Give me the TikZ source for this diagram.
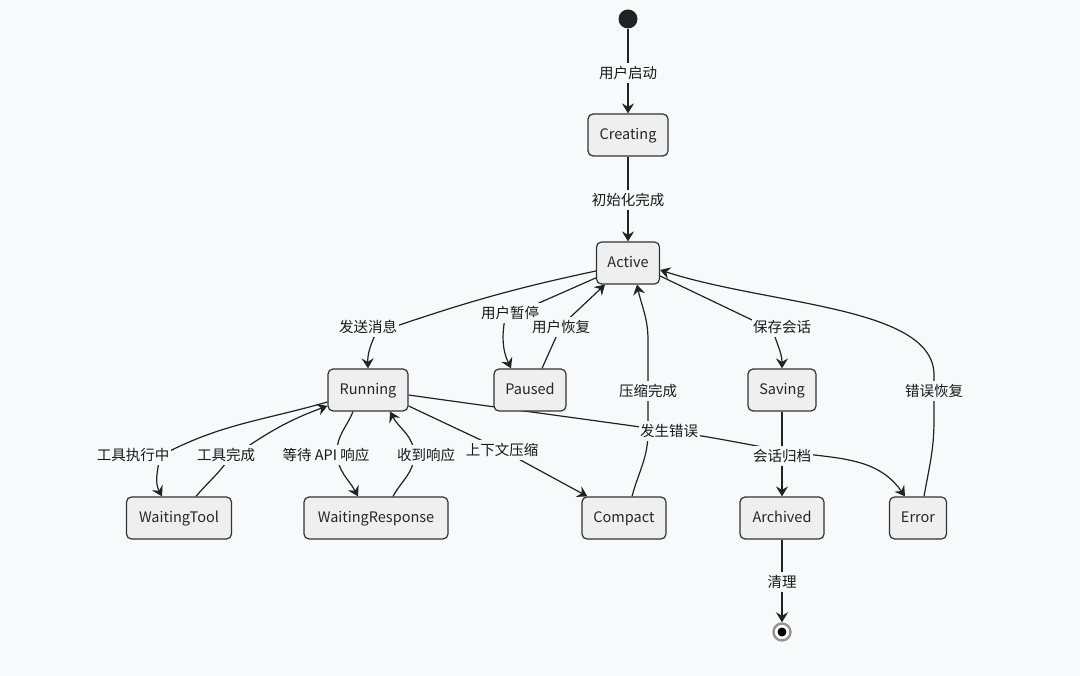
\documentclass[tikz,border=0pt]{standalone}
\usepackage{fontspec}
\setmainfont{Noto Sans CJK SC}
\usetikzlibrary{arrows.meta}
\definecolor{bgc}{RGB}{248,249,250}
\definecolor{nodefill}{RGB}{239,239,239}
\definecolor{linec}{RGB}{34,34,34}
\definecolor{bordc}{RGB}{51,51,51}
\pgfdeclarelayer{bglayer}
\pgfdeclarelayer{edgelayer}
\pgfsetlayers{bglayer,edgelayer,main}
\begin{document}
\begin{tikzpicture}[x=1pt,y=1pt,
  state/.style={draw=bordc,fill=nodefill,rounded corners=5pt,line width=1.2pt,minimum height=42pt,inner sep=0pt,text height=11pt,text depth=1.5pt,font=\fontsize{14.5}{17}\selectfont,text=black!85},
  lbl/.style={fill=bgc,inner xsep=1.5pt,inner ysep=3pt,font=\fontsize{14.5}{17}\selectfont,text=black!90},
  edge/.style={draw=linec,line width=1.2pt,-{Stealth[length=10pt,width=12pt,inset=3.5pt]}}
]
\begin{pgfonlayer}{bglayer}
\fill[bgc] (0,0) rectangle (1080,-676);
\end{pgfonlayer}

% states
\node[circle,fill=linec,minimum size=19pt,inner sep=0pt] (start) at (628,-19) {};
\node[state,minimum width=80pt] (creating) at (628,-135) {Creating};
\node[state,minimum width=63pt] (active) at (628,-263) {Active};
\node[state,minimum width=80pt] (running) at (368,-390) {Running};
\node[state,minimum width=72pt] (paused) at (530,-390) {Paused};
\node[state,minimum width=68pt] (saving) at (782,-390) {Saving};
\node[state,minimum width=105pt] (wtool) at (179,-518) {WaitingTool};
\node[state,minimum width=144pt] (wresp) at (376,-518) {WaitingResponse};
\node[state,minimum width=84pt] (compact) at (624,-518) {Compact};
\node[state,minimum width=84pt] (archived) at (782,-518) {Archived};
\node[state,minimum width=57pt] (error) at (918,-518) {Error};
\node[circle,draw=gray!85,line width=2.4pt,fill=white,minimum size=17pt,inner sep=0pt] (end) at (782,-632) {};
\node[circle,fill=black,minimum size=9pt,inner sep=0pt] (endin) at (end) {};

% labels
\node[lbl] (lStart) at (628,-73) {用户启动};
\node[lbl] (lInit) at (628,-200) {初始化完成};
\node[lbl] (lSend) at (368,-327) {发送消息};
\node[lbl] (lPause) at (510,-313) {用户暂停};
\node[lbl] (lResume) at (561,-327) {用户恢复};
\node[lbl] (lCompDone) at (648,-391) {压缩完成};
\node[lbl] (lSave) at (782,-327) {保存会话};
\node[lbl] (lErrRec) at (934,-391) {错误恢复};
\node[lbl] (lToolExec) at (133,-455) {工具执行中};
\node[lbl] (lToolDone) at (226,-455) {工具完成};
\node[lbl] (lWait) at (326,-455) {等待 API 响应};
\node[lbl] (lRecv) at (426,-455) {收到响应};
\node[lbl] (lCtx) at (502,-450) {上下文压缩};
\node[lbl] (lErr) at (669,-431) {发生错误};
\node[lbl] (lArch) at (782,-456) {会话归档};
\node[lbl] (lClean) at (782,-582) {清理};

\begin{pgfonlayer}{edgelayer}
\draw[edge] (start) -- (creating);
\draw[edge] (creating) -- (active);
\draw[edge] ([yshift=-8pt]active.west) to[out=192,in=19] (376,-333) to[out=-115,in=92] (running.north);
\draw[edge] ([xshift=2pt,yshift=-14pt]active.west) -- (505,-318) to[out=-100,in=115] ([xshift=-19pt]paused.north);
\draw[edge] ([xshift=12pt]paused.north) -- (561,-326) -- ([xshift=-23pt]active.south);
\draw[edge] ([xshift=8pt]compact.north) to[out=75,in=-90] (648,-432) -- (648,-340) to[out=90,in=-78] ([xshift=9pt]active.south);
\draw[edge] ([yshift=-13pt]active.east) -- (773,-330) to[out=-75,in=90] (saving.north);
\draw[edge] ([xshift=6pt]error.north) to[out=80,in=-90] (934,-420) -- (934,-375) to[out=90,in=-18,out looseness=0.6] ([yshift=-7pt]active.east);
\draw[edge] ([yshift=-12pt]running.west) to[out=196,in=28] (160,-456) to[out=-100,in=118] ([xshift=-17pt]wtool.north);
\draw[edge] ([xshift=17pt]wtool.north) to[out=50,in=235] (228,-460) to[out=35,in=200] ([yshift=-16pt]running.west);
\draw[edge] ([xshift=-15pt]running.south) to[out=-112,in=90] (337,-452) to[out=-90,in=118] ([xshift=-18pt]wresp.north);
\draw[edge] ([xshift=17pt]wresp.north) to[out=62,in=-90] (414,-455) to[out=90,in=-62] ([xshift=22pt]running.south);
\draw[edge] ([yshift=-16pt]running.east) -- (502,-450) -- ([xshift=6pt]compact.north west);
\draw[edge] ([yshift=-5pt]running.east) to[out=-8,in=172] (669,-431) to[out=-8,in=170] (790,-452) to[out=-8,in=125] ([xshift=-13pt]error.north);
\draw[edge] (saving) -- (archived);
\draw[edge] (archived) -- (end);
\end{pgfonlayer}
\end{tikzpicture}
\end{document}
